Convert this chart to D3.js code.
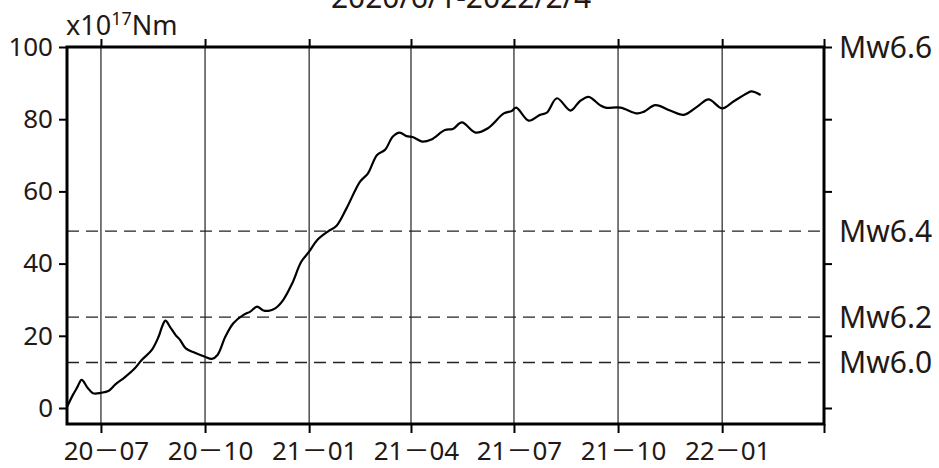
<!DOCTYPE html>
<html>
<head>
<meta charset="utf-8">
<script src="https://cdn.jsdelivr.net/npm/d3@7/dist/d3.min.js"></script>
<style>
  html, body { margin: 0; padding: 0; background: #fff; }
  svg text { font-family: "Noto Sans", "Noto Sans CJK JP", sans-serif; fill: #231815; }
</style>
</head>
<body>
<svg id="chart" width="939" height="468"></svg>
<script>
// Cumulative seismic moment (x10^17 Nm), 2020/6/1 - 2022/2/4
const dates = [
  "2020-06-01","2020-06-06","2020-06-10","2020-06-14","2020-06-19","2020-06-24",
  "2020-07-01","2020-07-08","2020-07-14","2020-07-22","2020-07-31","2020-08-06",
  "2020-08-15","2020-08-21","2020-08-24","2020-08-27","2020-08-31","2020-09-05",
  "2020-09-09","2020-09-14","2020-09-22","2020-10-01","2020-10-07","2020-10-12",
  "2020-10-19","2020-10-26","2020-11-04","2020-11-10","2020-11-16","2020-11-21",
  "2020-11-26","2020-12-02","2020-12-09","2020-12-17","2020-12-25","2021-01-01",
  "2021-01-08","2021-01-18","2021-01-25","2021-02-03","2021-02-15","2021-02-22",
  "2021-03-02","2021-03-09","2021-03-16","2021-03-22","2021-03-28","2021-04-03",
  "2021-04-11","2021-04-19","2021-05-01","2021-05-08","2021-05-16","2021-05-28",
  "2021-06-08","2021-06-22","2021-06-29","2021-07-03","2021-07-14","2021-07-24",
  "2021-07-30","2021-08-08","2021-08-20","2021-08-28","2021-09-05","2021-09-15",
  "2021-09-20","2021-10-03","2021-10-18","2021-10-24","2021-11-03","2021-11-16",
  "2021-11-28","2021-12-10","2021-12-20","2022-01-01","2022-01-11","2022-01-23",
  "2022-01-27","2022-02-04"
];
const moment = [
  0.3, 3.5, 5.7, 7.8, 5.7, 4.1,
  4.2, 4.8, 6.6, 8.5, 11.0, 13.3,
  16.1, 19.8, 22.5, 24.2, 22.5, 20.2,
  18.8, 16.5, 15.3, 14.2, 13.6, 14.7,
  19.8, 23.5, 25.8, 26.7, 28.1, 27.1,
  26.9, 27.6, 29.9, 34.5, 40.5, 43.3,
  46.5, 49.0, 50.4, 55.3, 62.7, 65.0,
  70.1, 71.5, 75.2, 76.3, 75.3, 75.0,
  73.8, 74.4, 77.0, 77.3, 79.1, 76.3,
  77.5, 81.6, 82.3, 83.2, 79.6, 81.2,
  81.8, 85.8, 82.4, 84.9, 86.2, 83.9,
  83.2, 83.2, 81.6, 82.1, 83.9, 82.4,
  81.2, 83.5, 85.5, 83.0, 84.9, 87.2,
  87.7, 86.7
];

// Moment levels of reference magnitudes
const mwLabels = ["Mw6.6", "Mw6.4", "Mw6.2", "Mw6.0"];
const mwValues = [100, 49, 25.2, 12.6];

const yTicks = [0, 20, 40, 60, 80, 100];
const xDomain = ["2020-06-01", "2022-04-01"];
const title = "2020/6/1-2022/2/4";

const parse = d3.utcParse("%Y-%m-%d");
const data = dates.map((d, i) => ({ date: parse(d), value: moment[i] }));

const svg = d3.select("#chart");
const plotLeft = 67, plotRight = 824, plotTop = 47, plotBottom = 424;

const x = d3.scaleUtc().domain(xDomain.map(parse)).range([plotLeft, plotRight]);
const y = d3.scaleLinear().domain([0, 100]).range([408, 47]);

const monthTicks = d3.utcMonth.every(3).range(parse("2020-07-01"), d3.utcDay.offset(parse(xDomain[1]), 1));

// vertical grid lines
svg.append("g").selectAll("line").data(monthTicks.filter(d => x(d) < plotRight - 1)).join("line")
  .attr("x1", d => x(d)).attr("x2", d => x(d))
  .attr("y1", plotTop).attr("y2", plotBottom)
  .attr("stroke", "#222").attr("stroke-width", 1.2);

// dashed magnitude levels
svg.append("g").selectAll("line").data(mwValues.slice(1)).join("line")
  .attr("x1", plotLeft).attr("x2", plotRight)
  .attr("y1", d => y(d)).attr("y2", d => y(d))
  .attr("stroke", "#222").attr("stroke-width", 1.3)
  .attr("stroke-dasharray", "12,7");

// moment curve
const line = d3.line().x(d => x(d.date)).y(d => y(d.value)).curve(d3.curveCatmullRom.alpha(0.5));
svg.append("path").datum(data)
  .attr("d", line).attr("fill", "none")
  .attr("stroke", "#000").attr("stroke-width", 2.2).attr("stroke-linejoin", "round");

// axes
const fmt = d3.utcFormat("%y－%m");
const axisBottom = d3.axisBottom(x).tickValues(monthTicks).tickSize(9).tickSizeOuter(0)
  .tickFormat(d => x(d) < plotRight - 1 ? fmt(d) : "");
const axisTop = d3.axisTop(x).tickValues(monthTicks).tickSize(8).tickSizeOuter(0).tickFormat("");
const axisLeft = d3.axisLeft(y).tickValues(yTicks).tickSize(8).tickSizeOuter(0).tickPadding(6);
const axisRight = d3.axisRight(y).tickValues(yTicks).tickSize(8).tickSizeOuter(0).tickFormat("");

function styleAxis(g) {
  g.select(".domain").remove();
  g.selectAll(".tick line").attr("stroke", "#000").attr("stroke-width", 2);
  g.selectAll(".tick text").attr("font-size", 26).attr("fill", "#231815")
    .attr("font-family", "\"Noto Sans\", \"Noto Sans CJK JP\", sans-serif");
}

svg.append("g").attr("transform", `translate(0,${plotBottom})`).call(axisBottom).call(styleAxis)
  .selectAll(".tick text").attr("dx", 5).attr("y", 36).attr("dy", 0);
svg.append("g").attr("transform", `translate(0,${plotTop})`).call(axisTop).call(styleAxis);
svg.append("g").attr("transform", `translate(${plotLeft},0)`).call(axisLeft).call(styleAxis);
svg.append("g").attr("transform", `translate(${plotRight},0)`).call(axisRight).call(styleAxis);

// frame
svg.append("rect").attr("x", plotLeft).attr("y", plotTop)
  .attr("width", plotRight - plotLeft).attr("height", plotBottom - plotTop)
  .attr("fill", "none").attr("stroke", "#000").attr("stroke-width", 3);

// magnitude labels
svg.append("g").selectAll("text").data(mwLabels).join("text")
  .attr("x", 839).attr("y", (d, i) => y(mwValues[i]))
  .attr("dy", "0.36em").attr("font-size", 30).text(d => d);

// unit label
const unit = svg.append("text").attr("x", 66).attr("y", 35).attr("font-size", 27);
unit.append("tspan").text("x10");
unit.append("tspan").attr("font-size", 18).attr("dy", -10).text("17");
unit.append("tspan").attr("dy", 10).text("Nm");

// title
svg.append("text").attr("x", 461).attr("y", 8).attr("text-anchor", "middle")
  .attr("font-size", 30).text(title);
</script>
</body>
</html>
